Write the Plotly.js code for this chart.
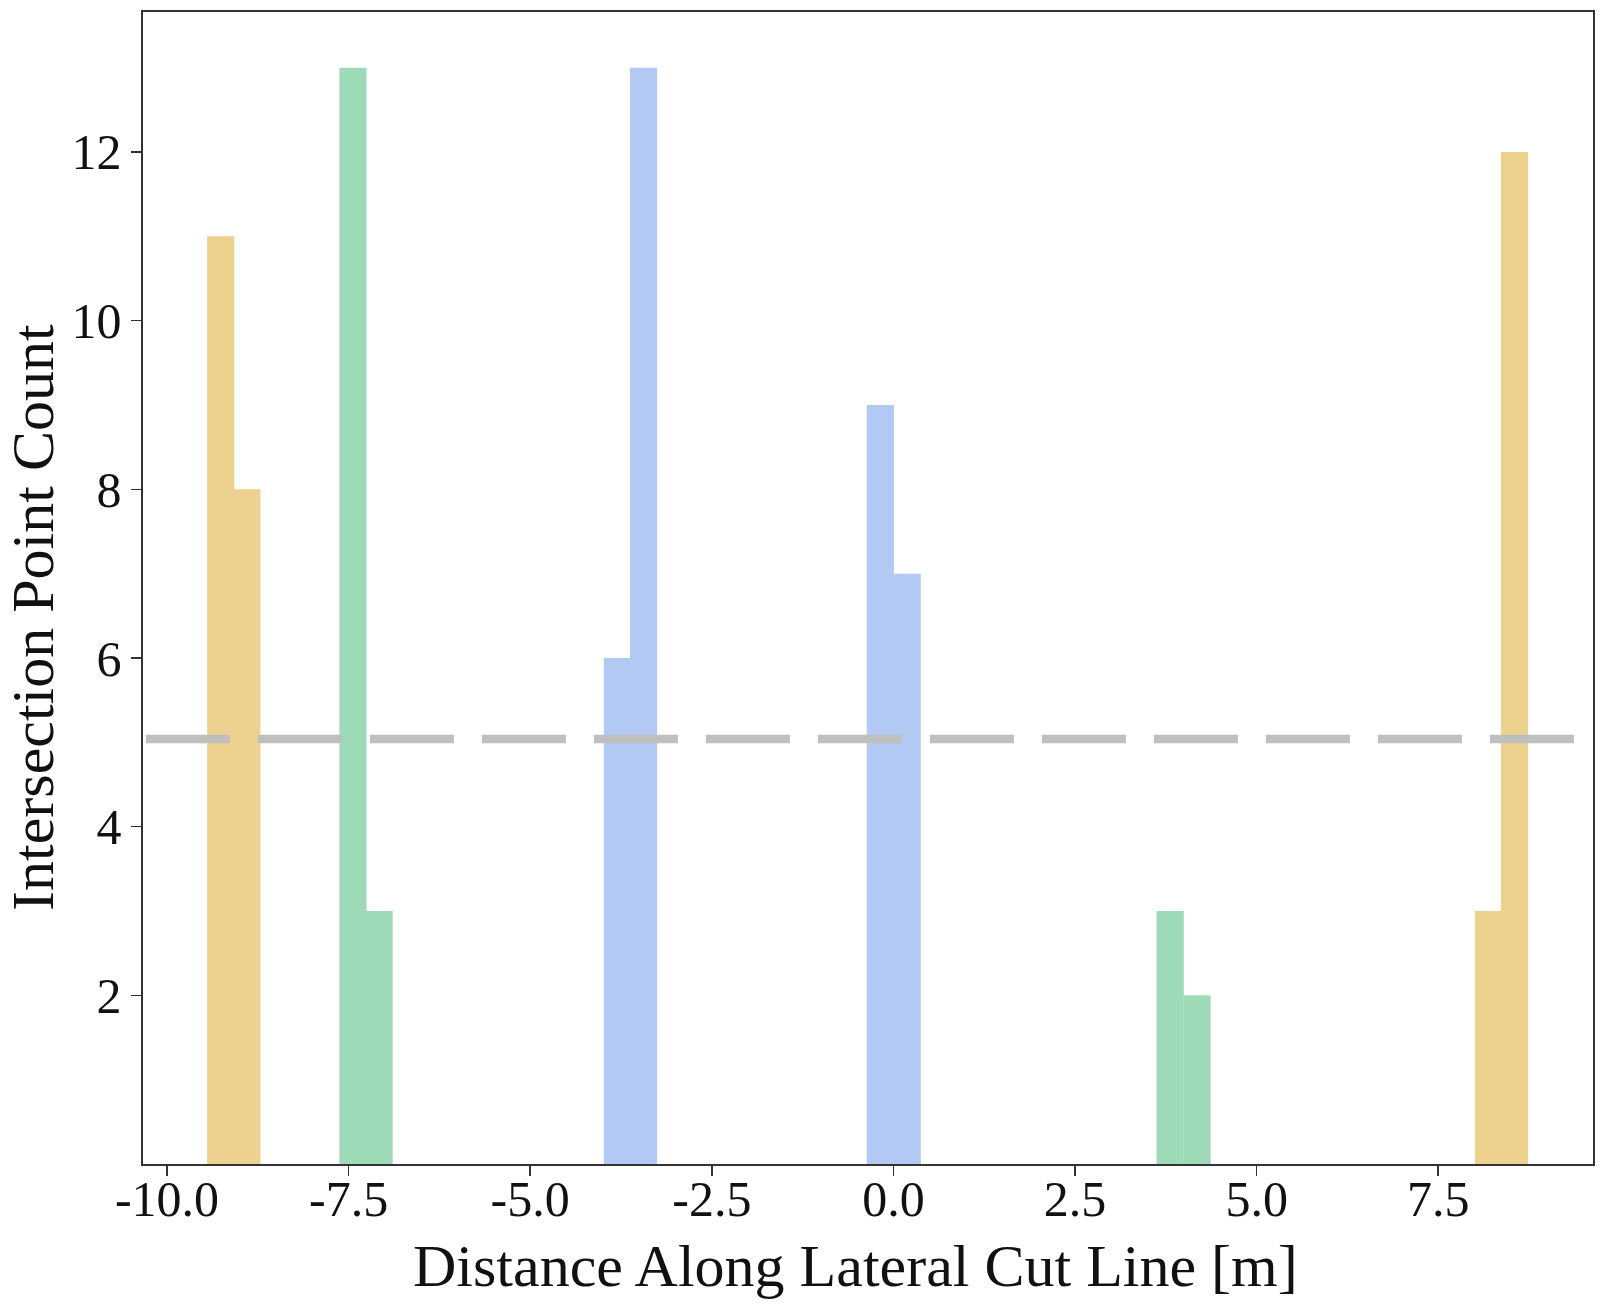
<!DOCTYPE html>
<html>
<head>
<meta charset="utf-8">
<script src="https://cdn.plot.ly/plotly-3.0.1.min.js"></script>
<style>
  html, body { margin: 0; padding: 0; background: #fff; }
  #myDiv { width: 1600px; height: 1306px; }
</style>
</head>
<body>
<div id="myDiv"></div>
<script>
// histogram bins (centres in m) and counts, one array pair per colour group
var orangeX = [-9.26, -8.90, 8.19, 8.55];
var orangeY = [11, 8, 3, 12];
var greenX = [-7.44, -7.08, 3.81, 4.18];
var greenY = [13, 3, 3, 2];
var blueX = [-3.80, -3.44, -0.18, 0.19];
var blueY = [6, 13, 9, 7];
var binWidth = 0.374;

// threshold line
var threshX = [-10.29, 9.41];
var threshY = [5.04, 5.04];

var xTicks = [-10, -7.5, -5, -2.5, 0, 2.5, 5, 7.5];
var yTicks = [2, 4, 6, 8, 10, 12];

var xTitle = 'Distance Along Lateral Cut Line [m]';
var yTitle = 'Intersection Point Count';

function bars(x, y, color) {
  return {
    type: 'bar',
    x: x,
    y: y,
    width: binWidth,
    marker: { color: color, line: { width: 0 } },
    hoverinfo: 'x+y'
  };
}

var trace1 = bars(orangeX, orangeY, 'rgb(237, 209, 142)');
var trace2 = bars(greenX, greenY, 'rgb(159, 218, 184)');
var trace3 = bars(blueX, blueY, 'rgb(177, 201, 243)');

var trace4 = {
  type: 'scatter',
  x: threshX,
  y: threshY,
  mode: 'lines',
  line: { color: 'rgb(191, 191, 191)', width: 8.5, dash: '84px,28px' },
  hoverinfo: 'skip'
};

var tickFont = { family: 'Liberation Serif', size: 50, color: '#111' };
var titleFont = { family: 'Liberation Serif', size: 60, color: '#111' };

var layout = {
  width: 1600,
  height: 1306,
  margin: { l: 143, r: 7, t: 12, b: 142, pad: 0 },
  paper_bgcolor: '#fff',
  plot_bgcolor: '#fff',
  showlegend: false,
  barmode: 'overlay',
  xaxis: {
    range: [-10.33, 9.63],
    tickvals: xTicks,
    ticktext: xTicks.map(function (v) { return v.toFixed(1); }),
    ticks: 'outside',
    ticklen: 10,
    tickwidth: 1.6,
    tickcolor: '#333',
    tickfont: tickFont,
    ticklabelstandoff: -20,
    showline: true,
    linecolor: '#333',
    linewidth: 1.6,
    mirror: true,
    showgrid: false,
    zeroline: false
  },
  yaxis: {
    range: [0, 13.66],
    tickvals: yTicks,
    ticks: 'outside',
    ticklen: 10,
    tickwidth: 1.6,
    tickcolor: '#333',
    tickfont: tickFont,
    showline: true,
    linecolor: '#333',
    linewidth: 1.6,
    mirror: true,
    showgrid: false,
    zeroline: false
  },
  annotations: [
    {
      text: xTitle, font: titleFont, showarrow: false,
      xref: 'paper', yref: 'paper', x: 0.4917, y: -0.0885,
      xanchor: 'center', yanchor: 'middle'
    },
    {
      text: yTitle, font: titleFont, showarrow: false, textangle: -90,
      xref: 'paper', yref: 'paper', x: -0.0759, y: 0.4748,
      xanchor: 'center', yanchor: 'middle'
    }
  ]
};

Plotly.newPlot('myDiv', [trace1, trace2, trace3, trace4], layout, { displayModeBar: false, staticPlot: true });
</script>
</body>
</html>
